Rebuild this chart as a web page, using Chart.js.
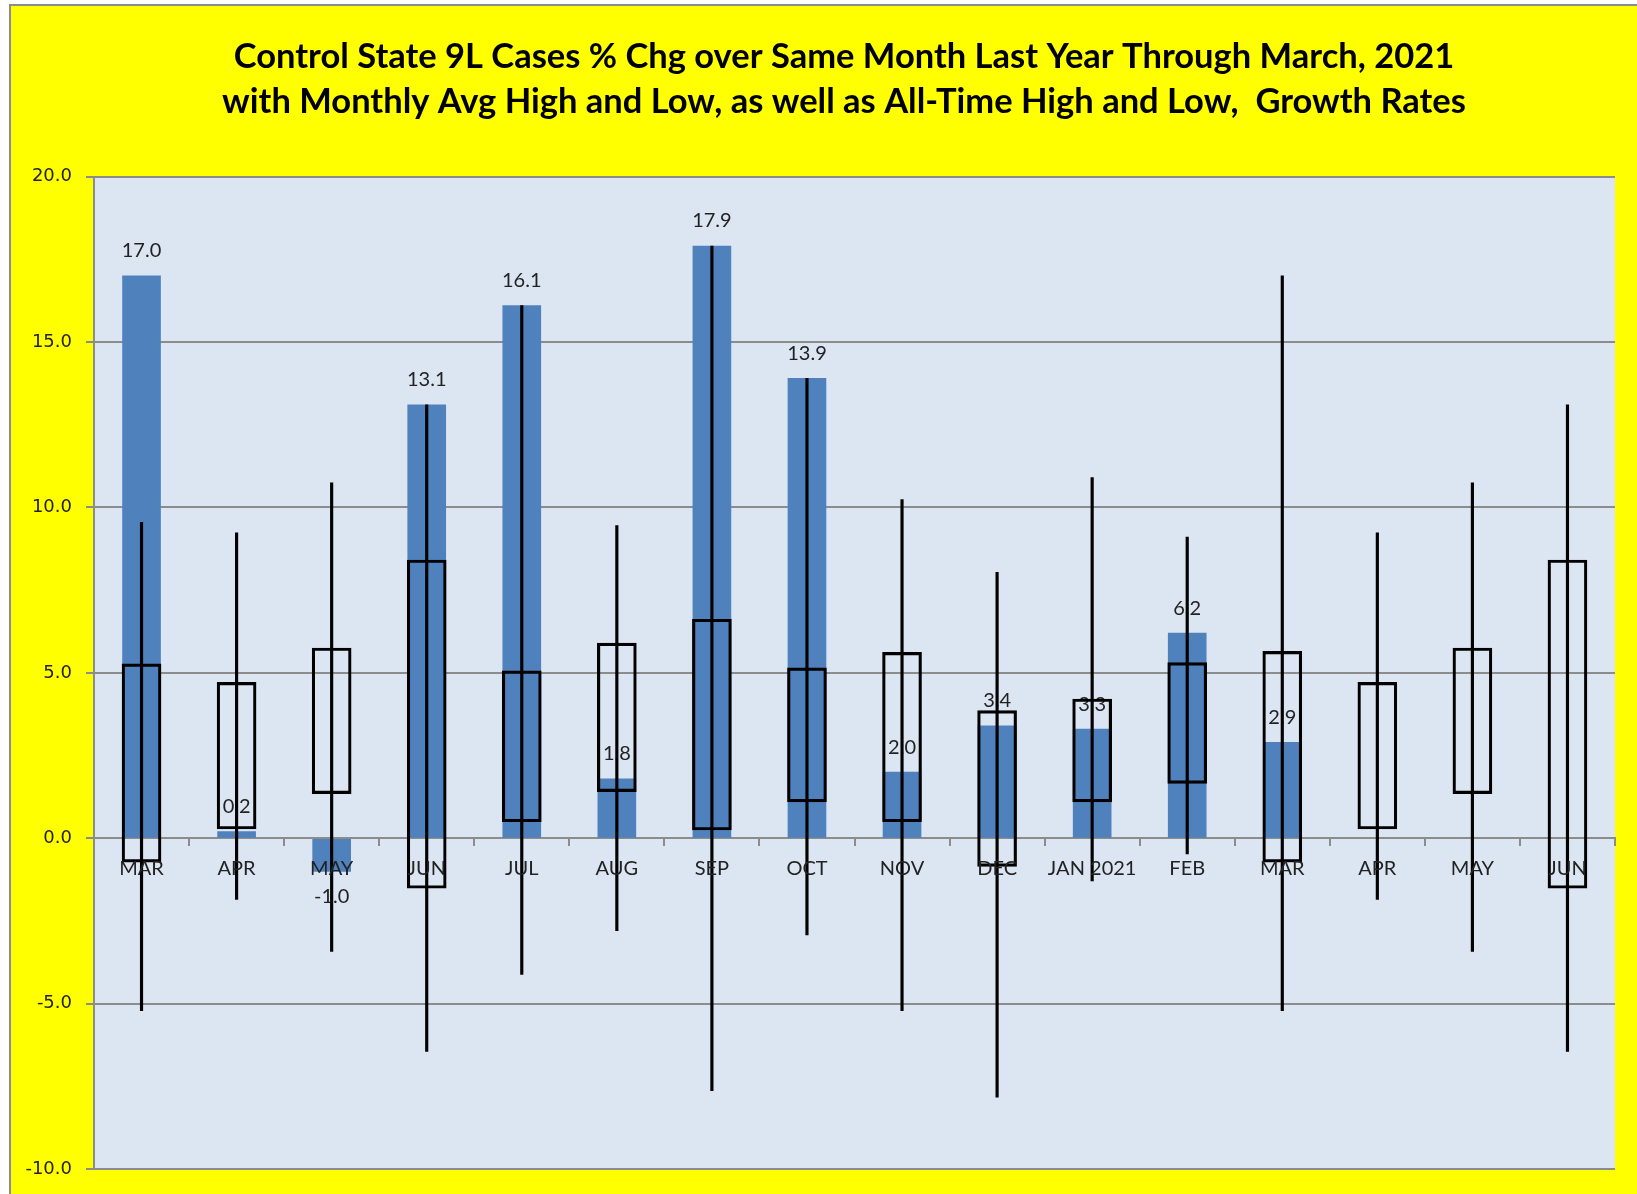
<!DOCTYPE html>
<html>
<head>
<meta charset="utf-8">
<script src="https://cdn.jsdelivr.net/npm/chart.js@4.4.0/dist/chart.umd.min.js"></script>
<style>
  html, body { margin: 0; padding: 0; background: #fff; }
  #frame { position: absolute; left: 9px; top: 4px; width: 1628px; height: 1190px; background: #ffff00;
           border-left: 2px solid #8c8c8c; border-top: 2px solid #8c8c8c; box-sizing: border-box; }
  #wrap { position: absolute; left: 0; top: 0; width: 1637px; height: 1194px; }
</style>
</head>
<body>
<div id="frame"></div>
<div id="wrap"><canvas id="chart" width="1637" height="1194"></canvas></div>
<script>
// months shown on the category axis
const months = ["MAR", "APR", "MAY", "JUN", "JUL", "AUG", "SEP", "OCT", "NOV", "DEC", "JAN 2021", "FEB", "MAR", "APR", "MAY", "JUN"];
// % chg over same month last year (blue bars)
const current = [17.0, 0.2, -1.0, 13.1, 16.1, 1.8, 17.9, 13.9, 2.0, 3.4, 3.3, 6.2, 2.9, null, null, null];
// monthly average high / low (boxes)
const avgHigh = [5.27, 4.71, 5.75, 8.41, 5.06, 5.90, 6.62, 5.15, 5.62, 3.86, 4.21, 5.31, 5.65, 4.71, 5.75, 8.41];
const avgLow = [-0.72, 0.28, 1.35, -1.51, 0.50, 1.41, 0.25, 1.10, 0.50, -0.85, 1.10, 1.66, -0.72, 0.28, 1.35, -1.51];
// all-time high / low (whiskers)
const allHigh = [9.55, 9.23, 10.74, 13.1, 16.1, 9.45, 17.9, 13.9, 10.24, 8.04, 10.9, 9.1, 17.0, 9.23, 10.74, 13.1];
const allLow = [-5.21, -1.85, -3.42, -6.44, -4.11, -2.79, -7.63, -2.92, -5.21, -7.82, -1.29, -0.47, -5.21, -1.85, -3.42, -6.44];
const yTicks = [-10, -5, 0, 5, 10, 15, 20];

const titleLines = [
    "Control State 9L Cases % Chg over Same Month Last Year Through March, 2021",
    "with Monthly Avg High and Low, as well as All-Time High and Low,  Growth Rates"
];

const boxes = avgHigh.map((h, i) => [avgLow[i], h]);
const whiskers = allHigh.map((h, i) => [allLow[i], h]);

const plotBg = {
    id: "plotBg",
    beforeDraw(chart) {
        const a = chart.chartArea, ctx = chart.ctx;
        ctx.save();
        ctx.fillStyle = "#dce6f2";
        ctx.fillRect(a.left, a.top, a.right - a.left, a.bottom - a.top);
        ctx.restore();
    }
};

const titlePlugin = {
    id: "titleText",
    afterDraw(chart) {
        const ctx = chart.ctx;
        ctx.save();
        ctx.fillStyle = "#000";
        ctx.font = "bold 34.5px Lato";
        ctx.textAlign = "center";
        ctx.textBaseline = "middle";
        ctx.fillText(titleLines[0], 844, 57);
        ctx.fillText(titleLines[1], 844, 102);
        ctx.restore();
    }
};

// value labels for the blue bars, drawn before boxes and whiskers
const barLabels = {
    id: "barLabels",
    afterDatasetDraw(chart, args) {
        if (args.index !== 0) return;
        const ctx = chart.ctx;
        ctx.save();
        ctx.fillStyle = "#222";
        ctx.font = "20px Lato";
        ctx.textAlign = "center";
        ctx.textBaseline = "middle";
        args.meta.data.forEach((bar, i) => {
            const v = current[i];
            if (v === null) return;
            const y = v >= 0 ? bar.y - 25 : bar.y + 25;
            ctx.fillText(v.toFixed(1), bar.x, y);
        });
        ctx.restore();
    }
};

new Chart(document.getElementById("chart"), {
    type: "bar",
    data: {
        labels: months,
        datasets: [
            { label: "Current", data: current, backgroundColor: "#4f81bd", barThickness: 38, grouped: false, order: 3 },
            { label: "Monthly Avg High/Low", data: boxes, backgroundColor: "rgba(0,0,0,0)", borderColor: "#000",
              borderWidth: 2.5, borderSkipped: false, barThickness: 39, grouped: false, order: 2 },
            { label: "All-Time High/Low", data: whiskers, backgroundColor: "#000", barThickness: 2.5, grouped: false, order: 1 }
        ]
    },
    options: {
        responsive: false,
        animation: false,
        layout: { padding: { top: 176.5, right: 22, bottom: 12, left: 0 } },
        plugins: { legend: { display: false }, tooltip: { enabled: false }, title: { display: false } },
        scales: {
            x: {
                position: { y: 0 },
                grid: { drawOnChartArea: false, drawTicks: true, tickLength: 7, color: "#8c8c8c", lineWidth: 2, offset: true },
                border: { color: "#8c8c8c", width: 2 },
                ticks: { z: 1, color: "#222", font: { family: "Lato", size: 20 }, padding: 11, maxRotation: 0, autoSkip: false }
            },
            y: {
                min: -10,
                max: 20,
                afterFit(scale) { scale.width = 94; },
                afterBuildTicks(scale) { scale.ticks = yTicks.map(v => ({ value: v })); },
                grid: { color: "#8c8c8c", lineWidth: 2, tickLength: 8 },
                border: { color: "#8c8c8c", width: 2 },
                ticks: { color: "#222", font: { family: "DejaVu Sans", size: 18 }, padding: 14, callback: v => v.toFixed(1) }
            }
        }
    },
    plugins: [plotBg, barLabels, titlePlugin]
});
</script>
</body>
</html>
